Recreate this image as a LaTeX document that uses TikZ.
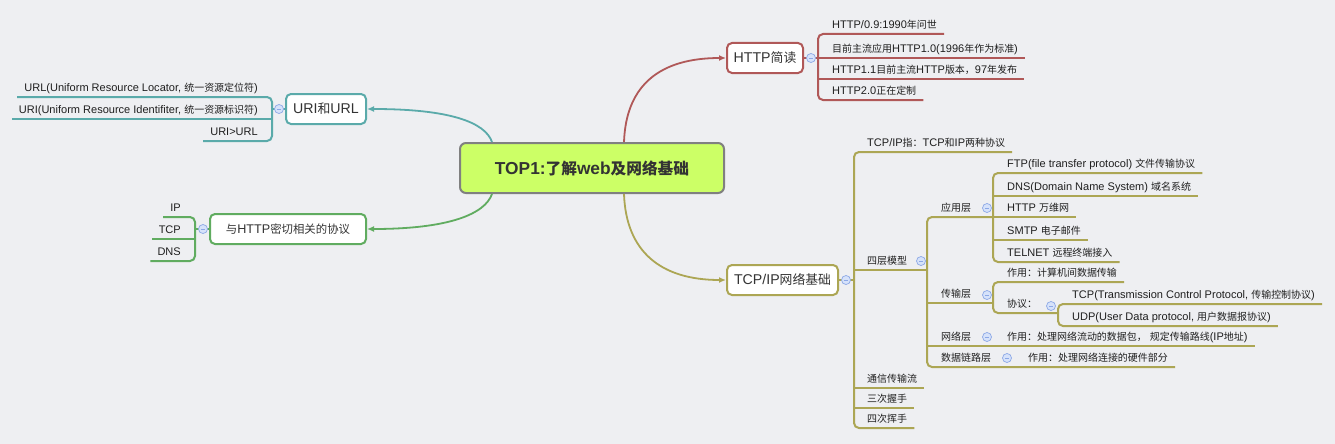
\documentclass[tikz,border=0pt]{standalone}
\usepackage{fontspec}
\setmainfont{Liberation Sans}[Scale=1.05]
\newfontfamily\cjkfont[Scale=0.95]{Noto Sans CJK SC}
% switch to the CJK font for every run of CJK characters
\XeTeXinterchartokenstate=1
\newXeTeXintercharclass\CJKclass
\count255="3000 \loop \XeTeXcharclass\count255=\CJKclass \advance\count255 by 1 \ifnum\count255<"3040 \repeat
\count255="4E00 \loop \XeTeXcharclass\count255=\CJKclass \advance\count255 by 1 \ifnum\count255<"A000 \repeat
\count255="FF00 \loop \XeTeXcharclass\count255=\CJKclass \advance\count255 by 1 \ifnum\count255<"FFF0 \repeat
\XeTeXinterchartoks 0 \CJKclass = {\begingroup\cjkfont}
\XeTeXinterchartoks 4095 \CJKclass = {\begingroup\cjkfont}
\XeTeXinterchartoks \CJKclass 0 = {\endgroup}
\XeTeXinterchartoks \CJKclass 4095 = {\endgroup}
\usepackage{tikz}
\usetikzlibrary{positioning,arrows.meta}
\definecolor{paper}{RGB}{238,239,242}
\definecolor{limefill}{RGB}{204,255,102}
\definecolor{rootline}{RGB}{128,128,128}
\definecolor{inktext}{RGB}{51,51,51}
\definecolor{tealline}{RGB}{90,170,170}
\definecolor{greenline}{RGB}{96,172,96}
\definecolor{redline}{RGB}{176,88,88}
\definecolor{oliveline}{RGB}{172,166,84}
\definecolor{foldfill}{RGB}{214,226,250}
\definecolor{foldline}{RGB}{140,168,230}
\tikzstyle{root}=[rectangle, draw=rootline, fill=limefill, line width=2pt, rounded corners=6pt,
        minimum width=264pt, minimum height=50pt, text=inktext, font=\fontsize{16.5}{20}\selectfont\bfseries]
\tikzstyle{topic}=[rectangle, fill=white, line width=2pt, rounded corners=5pt, minimum height=30pt,
        inner xsep=6pt, text=inktext, font=\fontsize{13.5}{16}\selectfont]
\tikzstyle{leaf}=[inner xsep=7pt, inner ysep=2.5pt, text height=8pt, text depth=2.5pt, text=black!88,
        font=\fontsize{10.5}{12}\selectfont]
\tikzstyle{fold}=[circle, draw=foldline, fill=foldfill, line width=0.7pt, minimum size=9pt, inner sep=0pt,
        path picture={\draw[foldline, line width=0.8pt] ([xshift=-2.2pt]path picture bounding box.center) -- ([xshift=2.2pt]path picture bounding box.center);}]
\tikzstyle{branch}=[line width=2pt, rounded corners=5pt]
\tikzstyle{link}=[line width=1.8pt, -{Latex[length=7pt,width=6pt]}]

\begin{document}
\begin{tikzpicture}[x=1pt, y=-1pt]
	\fill[paper] (0,0) rectangle (1335,444);
	\useasboundingbox (0,0) rectangle (1335,444);

	\node (TopOne) [root] at (592,168) {TOP1:了解web及网络基础};

	\node (HTTPIntro) [topic, draw=redline, minimum width=76pt] at (765,58) {HTTP简读};
	\node (URIandURL) [topic, draw=tealline, minimum width=80pt] at (326,109) {URI和URL};
	\node (HTTPRelated) [topic, draw=greenline, minimum width=156pt, font=\fontsize{12}{14}\selectfont] at (288,229) {与HTTP密切相关的协议};
	\node (TCPIPBasics) [topic, draw=oliveline, minimum width=111pt] at (782.5,280) {TCP/IP网络基础};

	\draw[link, tealline] ([xshift=-100pt]TopOne.north) .. controls +(-7,-20) and +(82,0) .. (URIandURL.east);
	\draw[link, greenline] ([xshift=-100pt]TopOne.south) .. controls +(-7,20) and +(82,0) .. (HTTPRelated.east);
	\draw[link, redline] ([xshift=32pt]TopOne.north) .. controls +(2,-57) and +(-66,0) .. (HTTPIntro.west);
	\draw[link, oliveline] ([xshift=32pt]TopOne.south) .. controls +(2,57) and +(-66,0) .. (TCPIPBasics.west);

	% HTTP
	\coordinate (HTTPTrunk) at (818,58);
	\node (Http09) [leaf, anchor=south west] at (825,34) {HTTP/0.9:1990年问世};
	\node (Http10) [leaf, anchor=south west] at (825,58) {目前主流应用HTTP1.0(1996年作为标准)};
	\node (Http11) [leaf, anchor=south west] at (825,79) {HTTP1.1目前主流HTTP版本，97年发布};
	\node (Http20) [leaf, anchor=south west] at (825,100) {HTTP2.0正在定制};

	\draw[branch, redline] (HTTPIntro.east) -- (HTTPTrunk);
	\draw[branch, redline] (Http09.south east) -- (HTTPTrunk |- Http09.south) -- (HTTPTrunk |- Http20.south) -- (Http20.south east);
	\draw[branch, redline] (HTTPTrunk |- Http10.south) -- (Http10.south east);
	\draw[branch, redline] (HTTPTrunk |- Http11.south) -- (Http11.south east);

	% URI
	\coordinate (URITrunk) at (272,109);
	\node (UrlDef) [leaf, anchor=south east] at (265,97) {URL(Uniform Resource Locator, 统一资源定位符)};
	\node (UriDef) [leaf, anchor=south east] at (265,119) {URI(Uniform Resource Identifiter, 统一资源标识符)};
	\node (UriVsUrl) [leaf, anchor=south east] at (265,141) {URI>URL};

	\draw[branch, tealline] (URIandURL.west) -- (URITrunk);
	\draw[branch, tealline] (UrlDef.south west) -- (URITrunk |- UrlDef.south) -- (URITrunk |- UriVsUrl.south) -- (UriVsUrl.south west);
	\draw[branch, tealline] (URITrunk |- UriDef.south) -- (UriDef.south west);

	% related protocols
	\coordinate (RelTrunk) at (195,229);
	\node (IpProto) [leaf, anchor=south east] at (188,217) {IP};
	\node (TcpProto) [leaf, anchor=south east] at (188,239) {TCP};
	\node (DnsProto) [leaf, anchor=south east] at (188,261) {DNS};

	\draw[branch, greenline] (HTTPRelated.west) -- (RelTrunk);
	\draw[branch, greenline] (IpProto.south west) -- (RelTrunk |- IpProto.south) -- (RelTrunk |- DnsProto.south) -- (DnsProto.south west);
	\draw[branch, greenline] (RelTrunk |- TcpProto.south) -- (TcpProto.south west);

	% TCP/IP
	\coordinate (TCPTrunk) at (854,280);
	\coordinate (LayerTrunk) at (927,270);
	\coordinate (AppTrunk) at (993,217);
	\coordinate (TransTrunk) at (993,303);
	\coordinate (ProtoTrunk) at (1058,313);

	\node (TcpIpDef) [leaf, anchor=south west] at (860,152) {TCP/IP指：TCP和IP两种协议};
	\node (FourLayer) [leaf, anchor=south west] at (860,270) {四层模型};
	\node (CommFlow) [leaf, anchor=south west] at (860,388) {通信传输流};
	\node (Handshake) [leaf, anchor=south west] at (860,408) {三次握手};
	\node (Wave) [leaf, anchor=south west] at (860,428) {四次挥手};

	\node (AppLayer) [leaf, anchor=south west] at (934,217) {应用层};
	\node (TransLayer) [leaf, anchor=south west] at (934,303) {传输层};
	\node (NetLayer) [leaf, anchor=south west] at (934,346) {网络层};
	\node (LinkLayer) [leaf, anchor=south west] at (934,367) {数据链路层};

	\node (FtpApp) [leaf, anchor=south west] at (1000,173) {FTP(file transfer protocol) 文件传输协议};
	\node (DnsApp) [leaf, anchor=south west] at (1000,196) {DNS(Domain Name System) 域名系统};
	\node (WwwApp) [leaf, anchor=south west] at (1000,217) {HTTP 万维网};
	\node (SmtpApp) [leaf, anchor=south west] at (1000,240) {SMTP 电子邮件};
	\node (TelnetApp) [leaf, anchor=south west] at (1000,262) {TELNET 远程终端接入};

	\node (TransRole) [leaf, anchor=south west] at (1000,282) {作用：计算机间数据传输};
	\node (ProtoLabel) [leaf, anchor=south west] at (1000,313) {协议：};
	\node (TcpFull) [leaf, anchor=south west] at (1065,304) {TCP(Transmission Control Protocol, 传输控制协议)};
	\node (UdpFull) [leaf, anchor=south west] at (1065,326) {UDP(User Data protocol, 用户数据报协议)};

	\node (NetRole) [leaf, anchor=south west] at (1000,346) {作用：处理网络流动的数据包， 规定传输路线(IP地址)};
	\node (LinkRole) [leaf, anchor=south west] at (1021,367) {作用：处理网络连接的硬件部分};

	\draw[branch, oliveline] (TCPIPBasics.east) -- (TCPTrunk);
	\draw[branch, oliveline] (TcpIpDef.south east) -- (TCPTrunk |- TcpIpDef.south) -- (TCPTrunk |- Wave.south) -- (Wave.south east);
	\draw[branch, oliveline] (TCPTrunk |- FourLayer.south) -- (LayerTrunk);
	\draw[branch, oliveline] (TCPTrunk |- CommFlow.south) -- (CommFlow.south east);
	\draw[branch, oliveline] (TCPTrunk |- Handshake.south) -- (Handshake.south east);

	\draw[branch, oliveline] (AppTrunk |- AppLayer.south) -- (LayerTrunk |- AppLayer.south) -- (LayerTrunk |- LinkLayer.south) -- (LinkRole.south east);
	\draw[branch, oliveline] (LayerTrunk |- TransLayer.south) -- (TransTrunk);
	\draw[branch, oliveline] (LayerTrunk |- NetLayer.south) -- (NetRole.south east);

	\draw[branch, oliveline] (FtpApp.south east) -- (AppTrunk |- FtpApp.south) -- (AppTrunk |- TelnetApp.south) -- (TelnetApp.south east);
	\foreach \leafname in {DnsApp, WwwApp, SmtpApp}
		\draw[branch, oliveline] (AppTrunk |- \leafname.south) -- (\leafname.south east);

	\draw[branch, oliveline] (TransRole.south east) -- (TransTrunk |- TransRole.south) -- (TransTrunk |- ProtoLabel.south) -- (ProtoTrunk);
	\draw[branch, oliveline] (TcpFull.south east) -- (ProtoTrunk |- TcpFull.south) -- (ProtoTrunk |- UdpFull.south) -- (UdpFull.south east);

	% fold buttons
	\node (HTTPFold) [fold] at (811,58) {};
	\node (URIFold) [fold] at (279,109) {};
	\node (RelFold) [fold] at (203,229) {};
	\node (TCPFold) [fold] at (846,280) {};
	\node (FourLayerFold) [fold] at (921,261) {};
	\node (AppFold) [fold] at (987,208) {};
	\node (TransFold) [fold] at (987,295) {};
	\node (ProtoFold) [fold] at (1051,306) {};
	\node (NetFold) [fold] at (987,337) {};
	\node (LinkFold) [fold] at (1007,358) {};
\end{tikzpicture}
\end{document}
